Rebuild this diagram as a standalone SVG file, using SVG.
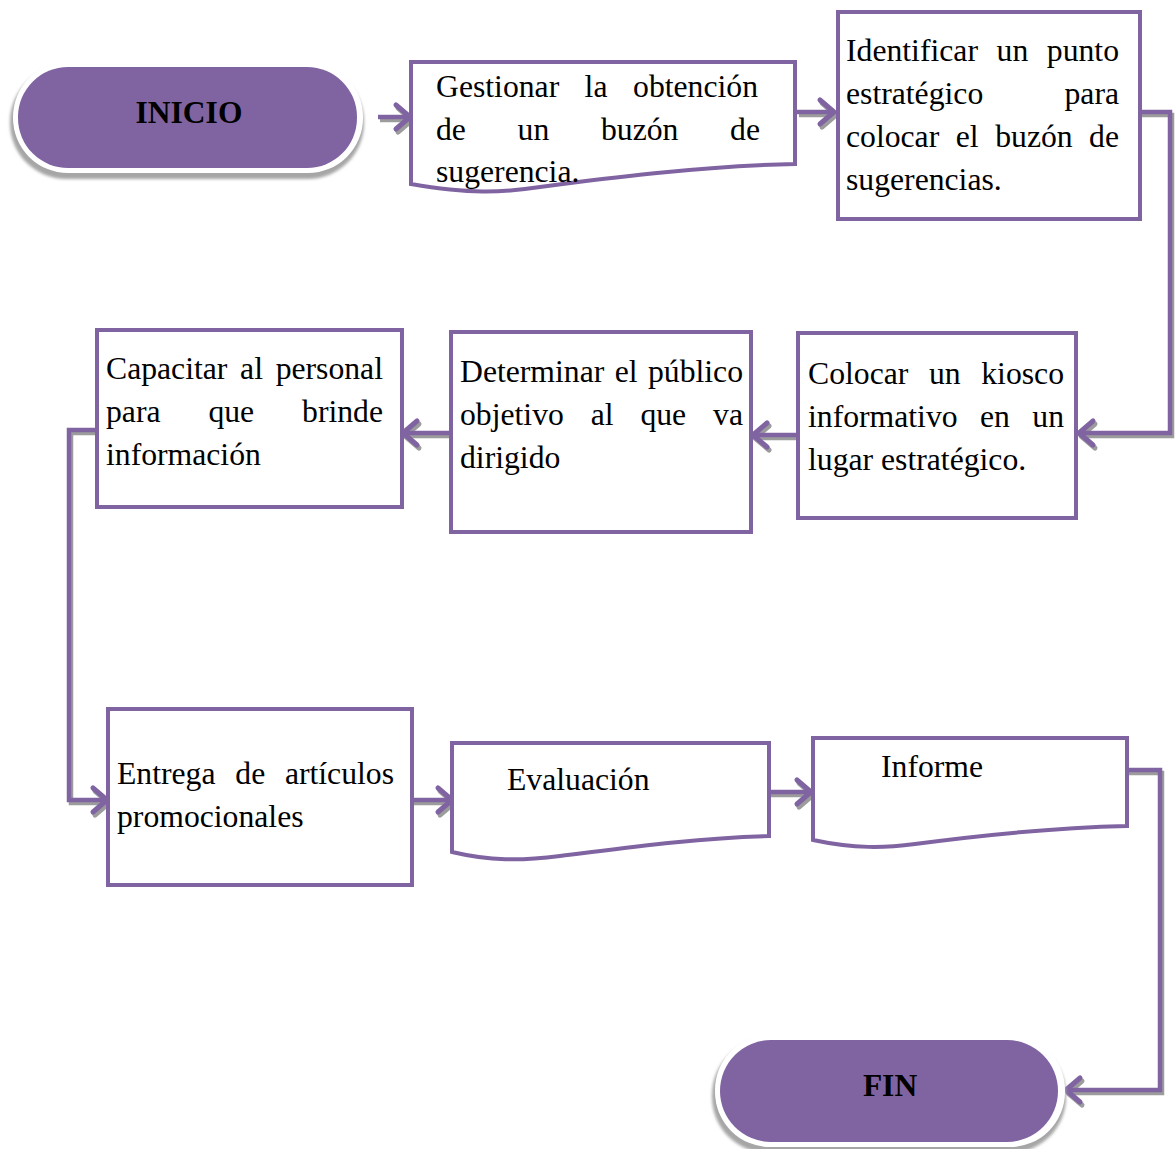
<svg xmlns="http://www.w3.org/2000/svg" width="1176" height="1149" viewBox="0 0 1176 1149">
  <style>
    .box { fill: #ffffff; stroke: #8064A2; stroke-width: 4; }
    .pill { fill: #8064A2; }
    .ring { fill: #ffffff; }
    .pshadow { fill: #a6a6a6; filter: url(#soft); }
    .txt { font-family: "Liberation Serif", "Times New Roman", serif; font-size: 31.7px; fill: #000000; }
    .term { font-family: "Liberation Serif", "Times New Roman", serif; font-size: 31.5px; font-weight: bold; fill: #000000; text-anchor: middle; }
    .end { text-anchor: end; }
    .wire { fill: none; stroke: #8064A2; stroke-width: 4.5; stroke-linejoin: miter; marker-end: url(#ah); }
    .wireshadow { fill: none; stroke: #9c9c9c; stroke-width: 4.5; marker-end: url(#ahs); }
  </style>
  <defs>
    <filter id="soft" x="-10%" y="-20%" width="120%" height="140%">
      <feGaussianBlur stdDeviation="1.5"/>
    </filter>
    <marker id="ah" markerUnits="userSpaceOnUse" markerWidth="30" markerHeight="34" refX="21" refY="15" orient="auto" overflow="visible">
      <path d="M7,3 L21,15 L7,27" fill="none" stroke="#8064A2" stroke-width="5" stroke-linecap="round" stroke-linejoin="round"/>
    </marker>
    <marker id="ahs" markerUnits="userSpaceOnUse" markerWidth="30" markerHeight="34" refX="21" refY="15" orient="auto" overflow="visible">
      <path d="M7,3 L21,15 L7,27" fill="none" stroke="#9c9c9c" stroke-width="5" stroke-linecap="round" stroke-linejoin="round"/>
    </marker>
  </defs>

  <rect width="1176" height="1149" fill="#ffffff"/>

  <!-- connectors: grey drop shadow first, purple line on top -->
  <g id="connectors">
    <g transform="translate(2,3)">
      <path class="wireshadow" d="M378,117 H410"/>
      <path class="wireshadow" d="M797,112 H834"/>
      <path class="wireshadow" d="M1140,112 H1170 V433 H1079"/>
      <path class="wireshadow" d="M798,435 H753"/>
      <path class="wireshadow" d="M451,433 H403"/>
      <path class="wireshadow" d="M97,430 H69 V800 H107"/>
      <path class="wireshadow" d="M412,800 H452"/>
      <path class="wireshadow" d="M769,792 H811"/>
      <path class="wireshadow" d="M1127,770 H1160 V1090 H1066"/>
    </g>
    <path class="wire" d="M378,117 H410"/>
    <path class="wire" d="M797,112 H834"/>
    <path class="wire" d="M1140,112 H1170 V433 H1079"/>
    <path class="wire" d="M798,435 H753"/>
    <path class="wire" d="M451,433 H403"/>
    <path class="wire" d="M97,430 H69 V800 H107"/>
    <path class="wire" d="M412,800 H452"/>
    <path class="wire" d="M769,792 H811"/>
    <path class="wire" d="M1127,770 H1160 V1090 H1066"/>
  </g>

  <!-- start terminator -->
  <g id="inicio">
    <rect class="pshadow" x="10" y="66" width="354" height="113" rx="56"/>
    <rect class="ring" x="13" y="62" width="350" height="111" rx="55"/>
    <rect class="pill" x="18" y="67" width="339" height="101" rx="50"/>
    <text class="term" x="189" y="123">INICIO</text>
  </g>

  <!-- step 1: document shape -->
  <g id="gestionar">
    <path class="box" d="M411,62 H795 V164 C700,166 600,179 540,187 C500,193 470,194 411,184 Z"/>
    <text class="txt" y="97"><tspan x="436">Gestionar</tspan><tspan x="584.6">la</tspan><tspan x="758" class="end">obtención</tspan></text>
    <text class="txt" y="140"><tspan x="436">de</tspan><tspan x="517.6">un</tspan><tspan x="601">buzón</tspan><tspan x="760" class="end">de</tspan></text>
    <text class="txt" x="436" y="182">sugerencia.</text>
  </g>

  <!-- step 2 -->
  <g id="identificar">
    <rect class="box" x="838" y="12" width="302" height="207"/>
    <text class="txt" y="61"><tspan x="846">Identificar</tspan><tspan x="996.6">un</tspan><tspan x="1119" class="end">punto</tspan></text>
    <text class="txt" y="104"><tspan x="846">estratégico</tspan><tspan x="1119" class="end">para</tspan></text>
    <text class="txt" y="147"><tspan x="846">colocar</tspan><tspan x="955.8">el</tspan><tspan x="995.2">buzón</tspan><tspan x="1119" class="end">de</tspan></text>
    <text class="txt" x="846" y="190">sugerencias.</text>
  </g>

  <!-- step 3 -->
  <g id="colocar">
    <rect class="box" x="798" y="333" width="278" height="185"/>
    <text class="txt" y="384"><tspan x="808">Colocar</tspan><tspan x="929">un</tspan><tspan x="1064" class="end">kiosco</tspan></text>
    <text class="txt" y="427"><tspan x="808">informativo</tspan><tspan x="980">en</tspan><tspan x="1064" class="end">un</tspan></text>
    <text class="txt" x="808" y="470">lugar estratégico.</text>
  </g>

  <!-- step 4 -->
  <g id="determinar">
    <rect class="box" x="451" y="332" width="300" height="200"/>
    <text class="txt" y="382"><tspan x="460">Determinar</tspan><tspan x="614.7">el</tspan><tspan x="743" class="end">público</tspan></text>
    <text class="txt" y="425"><tspan x="460">objetivo</tspan><tspan x="590.7">al</tspan><tspan x="640.4">que</tspan><tspan x="743" class="end">va</tspan></text>
    <text class="txt" x="460" y="468">dirigido</text>
  </g>

  <!-- step 5 -->
  <g id="capacitar">
    <rect class="box" x="97" y="330" width="305" height="177"/>
    <text class="txt" y="379"><tspan x="106">Capacitar</tspan><tspan x="240.1">al</tspan><tspan x="383" class="end">personal</tspan></text>
    <text class="txt" y="422"><tspan x="106">para</tspan><tspan x="208.4">que</tspan><tspan x="383" class="end">brinde</tspan></text>
    <text class="txt" x="106" y="465">información</text>
  </g>

  <!-- step 6 -->
  <g id="entrega">
    <rect class="box" x="108" y="709" width="304" height="176"/>
    <text class="txt" y="784"><tspan x="117">Entrega</tspan><tspan x="235.3">de</tspan><tspan x="394" class="end">artículos</tspan></text>
    <text class="txt" x="117" y="827">promocionales</text>
  </g>

  <!-- step 7: document shape -->
  <g id="evaluacion">
    <path class="box" d="M452,743 H769 V836 C690,838 610,850 560,856 C520,861 490,861 452,852 Z"/>
    <text class="txt" x="507" y="790">Evaluación</text>
  </g>

  <!-- step 8: document shape -->
  <g id="informe">
    <path class="box" d="M813,738 H1127 V826 C1040,828 960,838 915,844 C885,848 855,849 813,840 Z"/>
    <text class="txt" x="881" y="777">Informe</text>
  </g>

  <!-- end terminator -->
  <g id="fin">
    <rect class="pshadow" x="712" y="1039" width="354" height="114" rx="56"/>
    <rect class="ring" x="715" y="1035" width="350" height="112" rx="55"/>
    <rect class="pill" x="720" y="1040" width="338" height="102" rx="51"/>
    <text class="term" x="890" y="1096">FIN</text>
  </g>
</svg>
